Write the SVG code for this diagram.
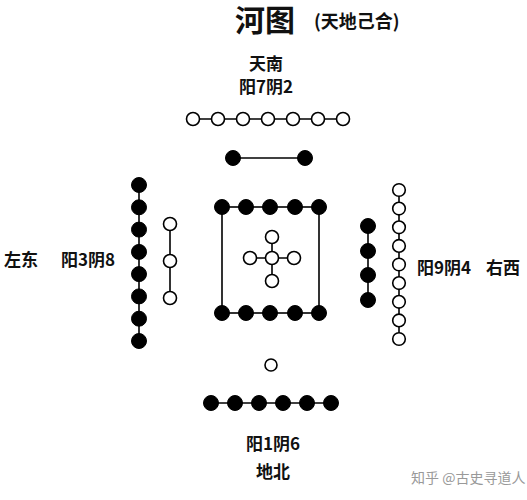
<svg xmlns="http://www.w3.org/2000/svg" width="527" height="500" viewBox="0 0 527 500">
<style>
text{font-family:"Noto Sans CJK SC","Noto Sans",sans-serif;font-weight:bold;fill:#111}
.w{fill:#fff;stroke:#000;stroke-width:1.6}
.b{fill:#000;stroke:#000;stroke-width:1}
.l{stroke:#000;stroke-width:1.6;fill:none}
</style>
<rect width="527" height="500" fill="#fff"/>
<text x="235" y="31" font-size="30">河图</text>
<text x="314" y="28" font-size="18">(天地己合)</text>
<text x="266" y="70" font-size="17" text-anchor="middle">天南</text>
<text x="266" y="93" font-size="17" text-anchor="middle">阳7阴2</text>
<text x="4" y="266" font-size="17">左东</text>
<text x="61" y="266" font-size="17">阳3阴8</text>
<text x="417" y="274" font-size="17">阳9阴4</text>
<text x="486" y="274" font-size="17">右西</text>
<text x="273" y="450" font-size="17" text-anchor="middle">阳1阴6</text>
<text x="273" y="478" font-size="17" text-anchor="middle">地北</text>
<text x="411" y="483" font-size="14" style="font-weight:normal;fill:#999">知乎 @古史寻道人</text>
<g id="connectors">
<line class="l" x1="193" y1="119" x2="343" y2="119"/>
<line class="l" x1="233" y1="158" x2="305" y2="158"/>
<line class="l" x1="139" y1="185" x2="139" y2="341"/>
<line class="l" x1="170" y1="224" x2="170" y2="298"/>
<rect class="l" x="222" y="207" width="97" height="106"/>
<line class="l" x1="250" y1="258" x2="294" y2="258"/>
<line class="l" x1="272" y1="237" x2="272" y2="281"/>
<line class="l" x1="368" y1="226" x2="368" y2="300"/>
<line class="l" x1="399" y1="190" x2="399" y2="339"/>
<line class="l" x1="211" y1="403" x2="331" y2="403"/>
</g>
<g id="south">
<circle class="w" cx="193" cy="119" r="6.5"/><circle class="w" cx="218" cy="119" r="6.5"/><circle class="w" cx="243" cy="119" r="6.5"/><circle class="w" cx="268" cy="119" r="6.5"/><circle class="w" cx="293" cy="119" r="6.5"/><circle class="w" cx="318" cy="119" r="6.5"/><circle class="w" cx="343" cy="119" r="6.5"/>
<circle class="b" cx="233" cy="158" r="7.5"/><circle class="b" cx="305" cy="158" r="7.5"/>
</g>
<g id="east">
<circle class="b" cx="139" cy="185" r="7.5"/><circle class="b" cx="139" cy="207.3" r="7.5"/><circle class="b" cx="139" cy="229.6" r="7.5"/><circle class="b" cx="139" cy="251.9" r="7.5"/><circle class="b" cx="139" cy="274.1" r="7.5"/><circle class="b" cx="139" cy="296.4" r="7.5"/><circle class="b" cx="139" cy="318.7" r="7.5"/><circle class="b" cx="139" cy="341" r="7.5"/>
<circle class="w" cx="170" cy="224" r="6.5"/><circle class="w" cx="170" cy="261" r="6.5"/><circle class="w" cx="170" cy="298" r="6.5"/>
</g>
<g id="center">
<circle class="b" cx="222" cy="207" r="7.5"/><circle class="b" cx="246" cy="207" r="7.5"/><circle class="b" cx="270" cy="207" r="7.5"/><circle class="b" cx="295" cy="207" r="7.5"/><circle class="b" cx="319" cy="207" r="7.5"/>
<circle class="b" cx="222" cy="313" r="7.5"/><circle class="b" cx="246" cy="313" r="7.5"/><circle class="b" cx="270" cy="313" r="7.5"/><circle class="b" cx="295" cy="313" r="7.5"/><circle class="b" cx="319" cy="313" r="7.5"/>
<circle class="w" cx="272" cy="237" r="6.5"/><circle class="w" cx="250" cy="258" r="6.5"/><circle class="w" cx="272" cy="258" r="6.5"/><circle class="w" cx="294" cy="258" r="6.5"/><circle class="w" cx="272" cy="281" r="6.5"/>
</g>
<g id="west">
<circle class="b" cx="368" cy="226" r="7.5"/><circle class="b" cx="368" cy="251" r="7.5"/><circle class="b" cx="368" cy="275" r="7.5"/><circle class="b" cx="368" cy="300" r="7.5"/>
<circle class="w" cx="399" cy="190" r="6.3"/><circle class="w" cx="399" cy="208.6" r="6.3"/><circle class="w" cx="399" cy="227.3" r="6.3"/><circle class="w" cx="399" cy="245.9" r="6.3"/><circle class="w" cx="399" cy="264.5" r="6.3"/><circle class="w" cx="399" cy="283.1" r="6.3"/><circle class="w" cx="399" cy="301.8" r="6.3"/><circle class="w" cx="399" cy="320.4" r="6.3"/><circle class="w" cx="399" cy="339" r="6.3"/>
</g>
<g id="north">
<circle class="w" cx="271" cy="365" r="6"/>
<circle class="b" cx="211" cy="403" r="7.5"/><circle class="b" cx="235" cy="403" r="7.5"/><circle class="b" cx="259" cy="403" r="7.5"/><circle class="b" cx="283" cy="403" r="7.5"/><circle class="b" cx="307" cy="403" r="7.5"/><circle class="b" cx="331" cy="403" r="7.5"/>
</g>
</svg>
